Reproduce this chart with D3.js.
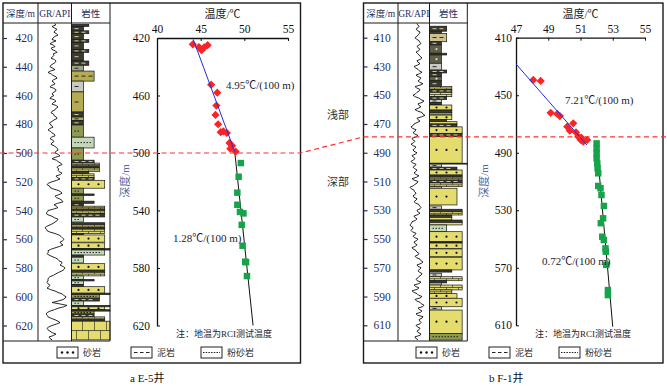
<!DOCTYPE html>
<html>
<head>
<meta charset="utf-8">
<script src="https://cdn.jsdelivr.net/npm/d3@7"></script>
<style>
	body { margin: 0; background: #fff; }
	svg { display: block; font-family: "Liberation Serif", "Noto Sans CJK SC", serif; }
</style>
</head>
<body>
<svg id="chart" width="667" height="386"></svg>
<script>
/* global d3 */

// ---- E-5 well ----
const e5GrStart = 410; // GR sampled every 1 m
const e5GR = [
	85, 88, 70, 82, 95, 84, 80, 92, 100, 83, 75, 70, 90, 72, 60, 78, 85, 66, 70, 88,
	95, 76, 80, 74, 65, 82, 90, 86, 75, 64, 60, 74, 85, 62, 50, 66, 75, 90, 95, 78,
	70, 80, 85, 68, 60, 79, 90, 88, 75, 70, 80, 66, 60, 82, 90, 76, 70, 92, 100, 89,
	85, 70, 65, 78, 80, 92, 95, 80, 70, 58, 60, 70, 75, 58, 50, 63, 70, 82, 85, 68,
	60, 74, 80, 69, 65, 81, 90, 98, 100, 88, 85, 102, 110, 86, 70, 92, 100, 114, 120, 102,
	95, 104,
	100, 106, 120, 112, 90, 96, 110, 94, 70, 52, 45, 58, 60, 76, 100, 114, 120, 104, 85, 92,
	110, 120, 125, 98, 80, 92, 100, 78, 50, 48, 40, 50, 70, 82, 100, 96, 85, 75, 60, 44,
	35, 42, 45, 60, 85, 104, 115, 122, 130, 124, 110, 115, 125, 108, 85, 64, 50, 52, 45, 55,
	70, 88, 100, 105, 120, 118, 110, 126, 135, 130, 120, 104, 90, 78, 60, 52, 50, 50, 45, 50,
	60, 54, 45, 62, 85, 100, 120, 128, 140, 136, 125, 100, 70, 110, 145, 128, 100, 82, 60, 46,
	40, 47, 50, 66, 85, 100, 110, 92, 70, 54, 45, 50, 60, 72, 90, 76, 55, 60, 70,
];
// [top, base, lithology, grain class]
const e5Layers = [
	[ 410.5, 412, 'mud', 2 ], [ 412, 415, 'mud', 1 ], [ 415, 417, 'mud', 2 ], [ 417, 421, 'mud', 1 ],
	[ 421, 423, 'mud', 2 ], [ 423, 428, 'mud', 1 ], [ 428, 430, 'mud', 2 ], [ 430, 436, 'mud', 1 ],
	[ 436, 439, 'mud', 2 ], [ 439, 443, 'mudGreen', 1 ], [ 443, 450, 'mudOlive', 3 ], [ 450, 457.5, 'mudGray', 1 ],
	[ 457.5, 471.5, 'mudOlive', 1 ], [ 471.5, 475, 'mud', 1 ], [ 475, 477.5, 'mudOlive', 1 ], [ 477.5, 480.5, 'mud', 1 ],
	[ 480.5, 489, 'siltOlive', 1 ], [ 489, 496.5, 'silt', 3 ], [ 496.5, 505, 'siltOlive', 1 ],
	[ 505, 507, 'mud', 3 ], [ 507, 509, 'brick', 4 ], [ 509, 510.5, 'mud', 4 ], [ 510.5, 513, 'brick', 4 ],
	[ 513, 514.5, 'mud', 2 ], [ 514.5, 517, 'brick', 3 ], [ 517, 519, 'mud', 3 ], [ 519, 524.5, 'sand', 5 ],
	[ 524.5, 528.5, 'siltOlive', 1 ], [ 528.5, 529.5, 'mud', 3 ], [ 529.5, 533.5, 'siltOlive', 1 ], [ 533.5, 535, 'mud', 3 ],
	[ 535, 537, 'mud', 1 ], [ 537, 539, 'brick', 5 ], [ 539, 540, 'mud', 5 ], [ 540, 542, 'brick', 5 ],
	[ 542, 544.5, 'mud', 5 ], [ 544.5, 548, 'silt', 1 ], [ 548.5, 550, 'mud', 5 ], [ 550, 552, 'brick', 5 ],
	[ 552, 553, 'mud', 5 ], [ 553, 556, 'brick', 5 ], [ 556, 557, 'mud', 1 ], [ 557, 562, 'sand', 5 ],
	[ 562.5, 566.5, 'sand', 5 ], [ 566.5, 567.5, 'mud', 6 ], [ 567.5, 571, 'silt', 5 ], [ 571, 572.5, 'mud', 1 ],
	[ 572.5, 576.5, 'silt', 1 ], [ 577, 581.5, 'sand', 5 ], [ 581.5, 583, 'mud', 5 ], [ 583, 585.5, 'brick', 5 ],
	[ 585.5, 588, 'silt', 1 ], [ 588, 589, 'mud', 3 ], [ 589, 591.5, 'silt', 1 ], [ 591.5, 593, 'mud', 1 ],
	[ 593, 597.5, 'sand', 5 ], [ 597.5, 598.5, 'mud', 6 ], [ 598.5, 601, 'siltOlive', 4 ], [ 601, 603, 'mud', 4 ],
	[ 603, 606, 'silt', 1 ], [ 606, 607, 'mud', 6 ], [ 607, 609, 'sand', 5 ], [ 609, 610, 'mud', 6 ],
	[ 610, 612, 'siltOlive', 3 ], [ 612, 614, 'mud', 3 ], [ 614, 616, 'brick', 5 ], [ 616, 617, 'mud', 5 ],
	[ 617, 630, 'brick', 6 ],
];
const e5RedTemp = [ 44.1, 44.8, 45.1, 45.4, 45.8, 46.2, 46.9, 46.8, 46.7, 47.0, 47.3, 47.6, 48.0, 48.3, 48.6, 48.4, 49.0 ];
const e5RedDepth = [ 424.4, 426.3, 428.5, 426.5, 425, 452.5, 458, 467, 473.5, 480, 485.5, 485, 486, 493, 495, 497, 499 ];
const e5GreenTemp = [ 49.6, 49.35, 49.2, 49.2, 49.5, 49.9, 49.7, 49.8, 50.1, 50.2, 50.3 ];
const e5GreenDepth = [ 507, 516.5, 527.6, 536, 541, 542, 550, 564.5, 575.6, 576, 585.6 ];
const e5ShallowFit = [ [ 44.15, 421 ], [ 48.9, 499 ] ];
const e5DeepFit = [ [ 48.9, 499 ], [ 51.0, 620 ] ];
const e5LogTicks = [ 420, 440, 460, 480, 500, 520, 540, 560, 580, 600, 620 ];
const e5TempTicks = [ 40, 45, 50, 55 ];
const e5DepthTicks = [ 420, 460, 500, 540, 580, 620 ];
const e5Boundary = 500;

// ---- F-1 well ----
const f1GrStart = 400;
const f1GR = [
	95, 98, 105, 101, 90, 96, 110, 108, 100, 96, 85, 92, 105, 108, 115, 106, 95, 100, 110, 104,
	90, 98, 105, 110, 120, 112, 95, 99, 110, 98, 80, 88, 100, 106, 120, 108, 90, 100, 115, 110,
	100, 108, 125, 110, 85, 94, 110, 106, 95, 88, 75, 86, 105, 114, 130, 120, 100, 104, 115, 102,
	85, 98, 120, 124, 135, 118, 95, 100, 110, 96, 80, 76, 65, 72, 90, 86, 75, 84, 100, 88,
	70, 74, 85, 78, 65, 74, 90, 84, 75, 80, 95, 86, 70, 76, 85, 78, 65, 72, 90, 86,
	75, 82, 95, 90, 80, 88, 105, 94, 70, 80, 100, 96, 85, 76, 60, 66, 80, 82, 90, 86,
	75, 80, 95, 90, 80, 88, 105, 108, 115, 110, 95, 98, 110, 100, 80, 84, 95, 88, 70, 68,
	60, 64, 75, 72, 65, 72, 90, 86, 75, 82, 100, 94, 80, 84, 95, 88, 70, 76, 90, 94,
	105, 100, 85, 92, 110, 114, 125, 116, 95, 100, 115, 110, 100, 106, 120, 116, 105, 100, 90, 96,
	115, 104, 80, 88, 105, 96, 70, 78, 95, 102, 120, 110, 85, 92, 110, 116, 130, 124, 100, 106,
	120, 112, 90, 98, 125, 120, 105, 108, 115, 110, 90, 96, 110, 106, 95, 100, 115, 110, 85, 88,
	100,
];
const f1Layers = [
	[ 402, 405.5, 'mud', 2 ], [ 405.5, 407, 'mud', 1 ], [ 407, 412.8, 'mudTan', 2 ], [ 412.8, 415, 'mud', 1 ],
	[ 415, 420.8, 'mudDark', 1 ], [ 420.8, 422, 'mud', 2 ], [ 422, 427.8, 'mudDark', 1 ], [ 427.8, 432.5, 'mudGray', 1 ],
	[ 432.5, 434.5, 'mud', 2 ], [ 434.5, 437, 'mud', 1 ], [ 437, 440, 'mudDark', 1 ], [ 440, 444, 'mud', 1 ],
	[ 444, 446, 'brick', 3 ], [ 446, 448, 'mud', 3 ], [ 448, 451, 'brick', 3 ], [ 451, 453, 'mud', 2 ],
	[ 453, 455, 'mudGray', 1 ], [ 455, 456.8, 'mud', 1 ], [ 456.8, 460.3, 'sand', 3 ], [ 460.3, 462, 'mud', 3 ],
	[ 462, 463.8, 'siltOlive', 3 ], [ 463.8, 467, 'sand', 3 ], [ 467, 468.4, 'mud', 2 ], [ 468.4, 470, 'brick', 4 ],
	[ 470, 472, 'mud', 4 ], [ 472, 476.5, 'sand', 5 ], [ 476.5, 478.8, 'mud', 5 ], [ 478.8, 497.3, 'sand', 5 ],
	[ 497.3, 497.9, 'mud', 6 ], [ 497.9, 500, 'mudGray', 1 ], [ 500, 502, 'mud', 4 ], [ 502, 505.5, 'sand', 5 ],
	[ 505.5, 507, 'mud', 5 ], [ 507, 509, 'brick', 5 ], [ 509, 511, 'mud', 5 ], [ 511, 513.6, 'brick', 5 ],
	[ 513.6, 514.7, 'mudGray', 1 ], [ 514.7, 526.3, 'sand', 4 ], [ 527, 529.3, 'mudGray', 1 ], [ 529.3, 531, 'mud', 5 ],
	[ 531, 533.3, 'brick', 5 ], [ 533.3, 535, 'mud', 3 ], [ 535, 536.8, 'brick', 3 ], [ 536.8, 538.5, 'mud', 5 ],
	[ 538.5, 540.2, 'brick', 5 ], [ 540.2, 544.9, 'silt', 2 ], [ 544.9, 551.9, 'sand', 5 ], [ 551.9, 552.8, 'mud', 5 ],
	[ 552.8, 556.5, 'sand', 5 ], [ 556.9, 562.3, 'sand', 5 ], [ 562.7, 571.5, 'sand', 5 ], [ 571.5, 573, 'mud', 3 ],
	[ 573.8, 576.2, 'mudGray', 1 ], [ 576.2, 579, 'brick', 5 ], [ 579, 580.5, 'mud', 2 ], [ 580.5, 582, 'mudGray', 1 ],
	[ 582, 585.4, 'brick', 5 ], [ 585.4, 588, 'brick', 3 ], [ 588, 591.2, 'sand', 4 ], [ 591.2, 597.1, 'sand', 5 ],
	[ 597.1, 599.4, 'mudGray', 1 ], [ 599.4, 615.6, 'sand', 5 ], [ 615.6, 620.3, 'siltOlive', 5 ],
];
const f1RedTemp = [ 48.07, 48.53, 49.15, 49.56, 49.72, 50.18, 50.55, 50.34, 50.72, 50.86, 51.02, 51.17, 51.41, 51.05 ];
const f1RedDepth = [ 439.4, 440.1, 462.2, 463, 464.5, 471.9, 469.5, 474.7, 475.8, 478.8, 481.1, 482.3, 481.1, 479.5 ];
const f1GreenTemp = [ 52.0, 52.0, 52.0, 52.0, 52.04, 52.06, 52.1, 52.1, 52.24, 52.3, 52.45, 52.4, 52.26, 52.35, 52.45, 52.55, 52.57, 52.6, 52.7, 52.7 ];
const f1GreenDepth = [ 483.5, 487, 490.4, 493.9, 497.4, 500.8, 504.3, 513.1, 514.7, 519.4, 527, 535.6, 539, 548.4, 550.7, 556.5, 558.8, 568, 585.5, 589 ];
const f1ShallowFit = [ [ 47.0, 428.3 ], [ 51.4, 484.6 ] ];
const f1DeepFit = [ [ 52.0, 483.5 ], [ 53.0, 611 ] ];
const f1LogTicks = [ 410, 430, 450, 470, 490, 510, 530, 550, 570, 590, 610 ];
const f1TempTicks = [ 47, 49, 51, 53, 55 ];
const f1DepthTicks = [ 410, 450, 490, 530, 570, 610 ];
const f1Boundary = 479;

// Fill colour and mark for each lithology
const litStyle = {
	sand: { fill: '#e4dd6e', mark: 'dot', ink: '#111' },
	brick: { fill: '#e4dd6e', mark: 'brick', ink: '#222' },
	mud: { fill: '#3a3a2e', mark: 'dash', ink: '#cfcca6' },
	mudDark: { fill: '#5e5e4a', mark: 'dot', ink: '#d8d8c0' },
	mudOlive: { fill: '#b4ab54', mark: 'dash', ink: '#2a2a1a' },
	mudGreen: { fill: '#9da484', mark: 'dash', ink: '#2a2a1a' },
	mudGray: { fill: '#c9c9c1', mark: 'dash', ink: '#2a2a2a' },
	mudTan: { fill: '#cfc08f', mark: 'dash', ink: '#2a2a1a' },
	silt: { fill: '#c2d8b8', mark: 'silt', ink: '#2a2a2a' },
	siltOlive: { fill: '#8e9952', mark: 'silt', ink: '#1e1e12' },
};

const svg = d3.select( '#chart' );
const navy = '#1f2f5f';

function drawLayer( g, layer, x0, y, size ) {
	const [ top, base, type, cls ] = layer;
	const st = litStyle[ type ];
	const y0 = y( top ), y1 = y( base ), w = size( cls ), h = y1 - y0;
	g.append( 'rect' )
		.attr( 'x', x0 ).attr( 'y', y0 )
		.attr( 'width', w ).attr( 'height', h )
		.attr( 'fill', st.fill )
		.attr( 'stroke', '#151515' )
		.attr( 'stroke-width', 0.7 );
	if ( h < 2.8 ) {
		return;
	}
	const cy = ( y0 + y1 ) / 2;
	if ( st.mark === 'dot' ) {
		for ( let x = x0 + 7; x < x0 + w - 3; x += 10 ) {
			g.append( 'circle' ).attr( 'cx', x ).attr( 'cy', cy ).attr( 'r', 1.1 ).attr( 'fill', st.ink );
		}
	} else if ( st.mark === 'dash' ) {
		for ( let x = x0 + 3; x < x0 + w - 4; x += 7 ) {
			g.append( 'line' ).attr( 'x1', x ).attr( 'x2', x + 4 ).attr( 'y1', cy ).attr( 'y2', cy )
				.attr( 'stroke', st.ink ).attr( 'stroke-width', 1 );
		}
	} else if ( st.mark === 'silt' ) {
		g.append( 'line' ).attr( 'x1', x0 + 3 ).attr( 'x2', x0 + w - 3 ).attr( 'y1', cy ).attr( 'y2', cy )
			.attr( 'stroke', st.ink ).attr( 'stroke-width', 1 ).attr( 'stroke-dasharray', '1.5,1.5' );
	} else if ( st.mark === 'brick' ) {
		g.append( 'line' ).attr( 'x1', x0 ).attr( 'x2', x0 + w ).attr( 'y1', cy ).attr( 'y2', cy )
			.attr( 'stroke', st.ink ).attr( 'stroke-width', 0.7 );
		for ( let x = x0 + 5, k = 0; x < x0 + w - 2; x += 6, k++ ) {
			const ya = k % 2 ? y0 : cy;
			g.append( 'line' ).attr( 'x1', x ).attr( 'x2', x ).attr( 'y1', ya ).attr( 'y2', ya + h / 2 )
				.attr( 'stroke', st.ink ).attr( 'stroke-width', 0.6 );
		}
	}
}

function styleAxis( g, size ) {
	g.selectAll( 'text' )
		.attr( 'font-family', '"Liberation Serif", serif' )
		.attr( 'font-size', size )
		.attr( 'fill', '#111' );
	g.selectAll( 'line' ).attr( 'stroke', '#111' );
	g.select( '.domain' ).attr( 'stroke', '#111' ).attr( 'stroke-width', 1.3 );
}

function legendBox( g, x, y, kind ) {
	g.append( 'rect' ).attr( 'x', x ).attr( 'y', y ).attr( 'width', 21 ).attr( 'height', 11 )
		.attr( 'fill', '#fff' ).attr( 'stroke', '#222' ).attr( 'stroke-width', 1 );
	const cy = y + 5.5;
	if ( kind === 'sand' ) {
		[ 5, 10.5, 16 ].forEach( ( dx ) => g.append( 'circle' ).attr( 'cx', x + dx ).attr( 'cy', cy ).attr( 'r', 1.2 ).attr( 'fill', '#111' ) );
	} else if ( kind === 'mud' ) {
		[ 3, 9, 15 ].forEach( ( dx ) => g.append( 'line' ).attr( 'x1', x + dx ).attr( 'x2', x + dx + 3.5 )
			.attr( 'y1', cy ).attr( 'y2', cy ).attr( 'stroke', '#222' ) );
	} else {
		g.append( 'line' ).attr( 'x1', x + 2 ).attr( 'x2', x + 19 ).attr( 'y1', cy ).attr( 'y2', cy )
			.attr( 'stroke', '#222' ).attr( 'stroke-width', 1.2 ).attr( 'stroke-dasharray', '1.5,1.2' );
	}
}

function drawWell( w ) {
	const g = svg.append( 'g' );
	const y = d3.scaleLinear().domain( w.depthDomain ).range( w.depthRange );
	const x = d3.scaleLinear().domain( w.tempDomain ).range( w.tempRange );
	const gr = d3.scaleLinear().domain( [ 0, 160 ] ).range( [ w.cols[ 1 ], w.cols[ 1 ] + 32 ] );
	const size = d3.scaleLinear().domain( [ 1, 6 ] ).range( [ 12, w.cols[ 3 ] - w.cols[ 2 ] ] );

	// Lithology column
	const lith = g.append( 'g' );
	w.layers.forEach( ( layer ) => drawLayer( lith, layer, w.cols[ 2 ], y, size ) );

	// GR curve
	g.append( 'path' )
		.datum( w.gr )
		.attr( 'fill', 'none' )
		.attr( 'stroke', '#111' )
		.attr( 'stroke-width', 0.9 )
		.attr( 'stroke-linejoin', 'round' )
		.attr( 'd', d3.line()
			.x( ( d ) => gr( d ) )
			.y( ( d, i ) => y( w.grStart + i ) ) );

	// Frame
	g.append( 'rect' )
		.attr( 'x', w.box[ 0 ] ).attr( 'y', 3 )
		.attr( 'width', w.box[ 1 ] - w.box[ 0 ] ).attr( 'height', 360 )
		.attr( 'fill', 'none' ).attr( 'stroke', '#1a1a1a' ).attr( 'stroke-width', 1.4 );
	[ w.cols[ 1 ], w.cols[ 2 ], w.cols[ 3 ] ].forEach( ( cx ) => {
		g.append( 'line' ).attr( 'x1', cx ).attr( 'x2', cx ).attr( 'y1', 3 ).attr( 'y2', 341 )
			.attr( 'stroke', '#1a1a1a' ).attr( 'stroke-width', 1 );
	} );
	[ 23, 341 ].forEach( ( ly ) => {
		g.append( 'line' ).attr( 'x1', w.box[ 0 ] ).attr( 'x2', w.cols[ 3 ] ).attr( 'y1', ly ).attr( 'y2', ly )
			.attr( 'stroke', '#1a1a1a' ).attr( 'stroke-width', 1 );
	} );

	// Header
	const heads = [ '深度/m', 'GR/API', '岩性' ];
	heads.forEach( ( t, i ) => {
		g.append( 'text' )
			.attr( 'x', ( w.cols[ i ] + w.cols[ i + 1 ] ) / 2 )
			.attr( 'y', 17 )
			.attr( 'text-anchor', 'middle' )
			.attr( 'font-size', 9.5 )
			.attr( 'fill', navy )
			.text( t );
	} );

	// Depth column
	const logAxis = g.append( 'g' )
		.attr( 'transform', `translate(${ w.cols[ 0 ] },0)` )
		.call( d3.axisRight( y ).tickValues( w.logTicks ).tickSize( 4 ).tickPadding( w.logPad ).tickSizeOuter( 0 ) );
	logAxis.select( '.domain' ).remove();
	logAxis.selectAll( 'text' )
		.attr( 'font-family', '"Liberation Serif", serif' )
		.attr( 'font-size', 11.5 )
		.attr( 'fill', navy );
	logAxis.selectAll( 'line' ).attr( 'stroke', navy ).attr( 'stroke-width', 1.2 );

	// Temperature chart axes
	const xAxis = g.append( 'g' )
		.attr( 'transform', `translate(0,${ w.depthRange[ 0 ] })` )
		.call( d3.axisTop( x ).tickValues( w.tempTicks ).tickSize( -3 ).tickPadding( 5 ).tickSizeOuter( 0 ) );
	styleAxis( xAxis, 11.5 );
	const yAxis = g.append( 'g' )
		.attr( 'transform', `translate(${ w.tempRange[ 0 ] },0)` )
		.call( d3.axisLeft( y ).tickValues( w.depthTicks ).tickSize( -3 ).tickPadding( w.yPad ).tickSizeOuter( 0 ) );
	styleAxis( yAxis, 11.5 );

	g.append( 'text' )
		.attr( 'x', ( w.tempRange[ 0 ] + w.tempRange[ 1 ] ) / 2 )
		.attr( 'y', 18 )
		.attr( 'text-anchor', 'middle' )
		.attr( 'font-size', 11 )
		.attr( 'fill', '#222' )
		.text( '温度/℃' );
	g.append( 'text' )
		.attr( 'transform', `translate(${ w.yLabelX },181) rotate(-90)` )
		.attr( 'text-anchor', 'middle' )
		.attr( 'font-size', 11 )
		.attr( 'fill', '#5a6a9c' )
		.text( '深度/m' );

	// Trend lines
	const fit = d3.line().x( ( d ) => x( d[ 0 ] ) ).y( ( d ) => y( d[ 1 ] ) );
	g.append( 'path' ).attr( 'd', fit( w.deepFit ) ).attr( 'stroke', '#111' ).attr( 'stroke-width', 1 ).attr( 'fill', 'none' );

	// Measured temperatures
	const sym = d3.symbol().type( d3.symbolSquare );
	g.append( 'g' ).selectAll( 'path' )
		.data( w.greenTemp )
		.join( 'path' )
		.attr( 'transform', ( d, i ) => `translate(${ x( d ) },${ y( w.greenDepth[ i ] ) })` )
		.attr( 'd', sym.size( 42 )() )
		.attr( 'fill', '#16a34a' );
	g.append( 'g' ).selectAll( 'path' )
		.data( w.redTemp )
		.join( 'path' )
		.attr( 'transform', ( d, i ) => `translate(${ x( d ) },${ y( w.redDepth[ i ] ) }) rotate(45)` )
		.attr( 'd', sym.size( 34 )() )
		.attr( 'fill', '#fa2424' );
	g.append( 'path' ).attr( 'd', fit( w.shallowFit ) ).attr( 'stroke', '#1f2fe0' ).attr( 'stroke-width', 1 ).attr( 'fill', 'none' );

	// Annotations
	w.notes.forEach( ( n ) => {
		g.append( 'text' )
			.attr( 'x', n[ 0 ] ).attr( 'y', n[ 1 ] )
			.attr( 'font-size', n[ 3 ] )
			.attr( 'fill', '#1c1c2c' )
			.text( n[ 2 ] );
	} );

	// Legend
	const lg = g.append( 'g' );
	const names = [ '砂岩', '泥岩', '粉砂岩' ];
	[ 'sand', 'mud', 'silt' ].forEach( ( k, i ) => {
		legendBox( lg, w.legendX[ i ], 347, k );
		lg.append( 'text' )
			.attr( 'x', w.legendX[ i ] + 26 ).attr( 'y', 356 )
			.attr( 'font-size', 9 )
			.attr( 'fill', '#333' )
			.text( names[ i ] );
	} );

	g.append( 'text' )
		.attr( 'x', w.captionX ).attr( 'y', 382 )
		.attr( 'font-size', 11 )
		.attr( 'fill', '#111' )
		.text( w.caption );

	return y;
}

const yE5 = drawWell( {
	box: [ 3, 300.5 ],
	cols: [ 3, 38, 71.5, 110 ],
	depthDomain: [ 420, 620 ],
	depthRange: [ 38, 325.5 ],
	tempDomain: [ 40, 55 ],
	tempRange: [ 157, 288 ],
	grStart: e5GrStart,
	gr: e5GR,
	layers: e5Layers,
	logTicks: e5LogTicks,
	logPad: 8.5,
	tempTicks: e5TempTicks,
	depthTicks: e5DepthTicks,
	yPad: 7,
	yLabelX: 129,
	redTemp: e5RedTemp,
	redDepth: e5RedDepth,
	greenTemp: e5GreenTemp,
	greenDepth: e5GreenDepth,
	shallowFit: e5ShallowFit,
	deepFit: e5DeepFit,
	notes: [
		[ 226, 89, '4.95℃/(100 m)', 11 ],
		[ 173, 242, '1.28℃/(100 m)', 11 ],
		[ 176, 337, '注：地温为RCI测试温度', 9 ],
	],
	legendX: [ 57, 131, 201 ],
	caption: 'a  E-5井',
	captionX: 130,
} );

const yF1 = drawWell( {
	box: [ 363.5, 663 ],
	cols: [ 363.5, 398, 429.5, 467.3 ],
	depthDomain: [ 410, 610 ],
	depthRange: [ 37.7, 325.3 ],
	tempDomain: [ 47, 55 ],
	tempRange: [ 516, 645 ],
	grStart: f1GrStart,
	gr: f1GR,
	layers: f1Layers,
	logTicks: f1LogTicks,
	logPad: 6,
	tempTicks: f1TempTicks,
	depthTicks: f1DepthTicks,
	yPad: 4,
	yLabelX: 488,
	redTemp: f1RedTemp,
	redDepth: f1RedDepth,
	greenTemp: f1GreenTemp,
	greenDepth: f1GreenDepth,
	shallowFit: f1ShallowFit,
	deepFit: f1DeepFit,
	notes: [
		[ 565, 104, '7.21℃/(100 m)', 11 ],
		[ 542, 265, '0.72℃/(100 m)', 11 ],
		[ 535, 337, '注：地温为RCI测试温度', 9 ],
	],
	legendX: [ 416, 489, 559 ],
	caption: 'b  F-1井',
	captionX: 489,
} );

// Shallow / deep boundary
const yl = yE5( e5Boundary ), yr = yF1( f1Boundary );
svg.append( 'path' )
	.attr( 'd', d3.line()( [ [ 0, yl ], [ 300.5, yl ], [ 363.5, yr ], [ 667, yr ] ] ) )
	.attr( 'fill', 'none' )
	.attr( 'stroke', '#ff3030' )
	.attr( 'stroke-width', 1.2 )
	.attr( 'stroke-dasharray', '5,3.5' );

[ [ '浅部', 115 ], [ '深部', 182 ] ].forEach( ( [ t, ty ] ) => {
	svg.append( 'text' )
		.attr( 'x', 338 ).attr( 'y', ty + 4 )
		.attr( 'text-anchor', 'middle' )
		.attr( 'font-size', 11 )
		.attr( 'fill', '#333' )
		.text( t );
} );
</script>
</body>
</html>
